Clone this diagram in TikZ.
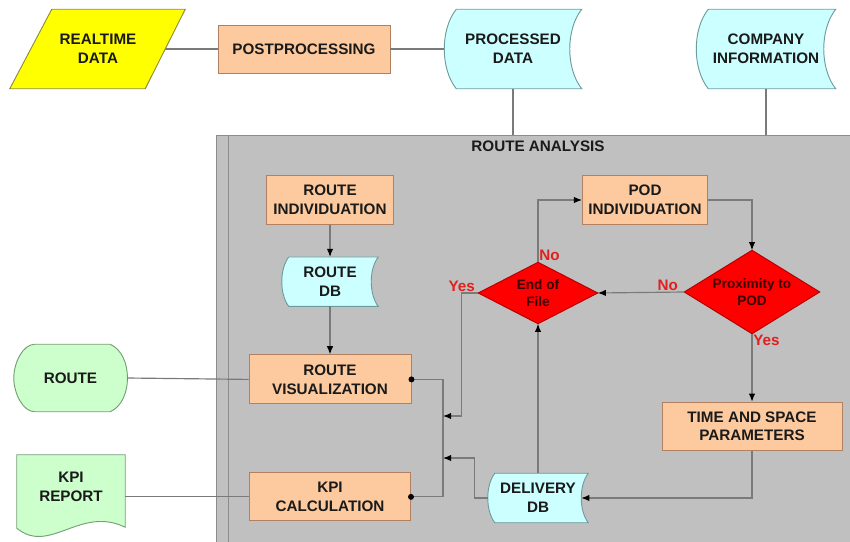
\documentclass[tikz,border=0pt]{standalone}
\usepackage{fontspec}
\setmainfont{Liberation Sans}
\usetikzlibrary{arrows.meta,backgrounds,calc,positioning}

\definecolor{ink}{HTML}{1A1A1A}
\definecolor{rtfill}{HTML}{FFFF00}
\definecolor{rtline}{HTML}{8C8C3C}
\definecolor{procfill}{HTML}{FCCA9E}
\definecolor{procline}{HTML}{B08060}
\definecolor{storefill}{HTML}{CCFFFF}
\definecolor{storeline}{HTML}{6E9C9C}
\definecolor{outfill}{HTML}{CCFFCC}
\definecolor{outborder}{HTML}{74A074}
\definecolor{decfill}{HTML}{FF0000}
\definecolor{decline}{HTML}{B40000}
\definecolor{decink}{HTML}{3C0000}
\definecolor{anscol}{HTML}{E0201E}
\definecolor{areafill}{HTML}{C0C0C0}
\definecolor{arealine}{HTML}{8C8C8C}
\definecolor{flowgrey}{HTML}{7A7A7A}

% stored data outline drawn round a node: #1 node, #2 bulge
\newcommand{\storedshape}[2]{%
  \filldraw[store]
    ($(#1.north west)+(#2,0)$) -- (#1.north east)
    .. controls ($(#1.north east)!.25!(#1.south east)+(-4*#2/3,0)$)
           and ($(#1.north east)!.75!(#1.south east)+(-4*#2/3,0)$) .. (#1.south east)
    -- ($(#1.south west)+(#2,0)$)
    .. controls ($(#1.north west)!.75!(#1.south west)+(-#2/3,0)$)
           and ($(#1.north west)!.25!(#1.south west)+(-#2/3,0)$) .. ($(#1.north west)+(#2,0)$)
    -- cycle;}

\tikzset{
  every node/.style={font=\bfseries\fontsize{13}{16}\selectfont, text=ink, align=center, inner sep=2pt},
  cell/.style={rectangle},
  process/.style={rectangle, draw=procline, fill=procfill, line width=0.8pt},
  store/.style={draw=storeline, fill=storefill, line width=0.8pt},
  source/.style={draw=rtline, fill=rtfill, line width=0.8pt},
  output/.style={draw=outborder, fill=outfill, line width=0.8pt},
  decide/.style={draw=decline, fill=decfill, line width=0.8pt},
  query/.style={cell, font=\bfseries\fontsize{11.6}{15}\selectfont, text=decink},
  answer/.style={font=\bfseries\fontsize{13}{15}\selectfont, text=anscol, inner sep=1pt},
  flow/.style={draw=flowgrey, line width=1pt},
  flowarrow/.style={flow, -{Latex[length=7pt, width=5.5pt, color=black]}},
  flowdots/.style={flow, {Circle[length=5pt, sep=-2.5pt, color=black]}-{Circle[length=5pt, sep=-2.5pt, color=black]}},
}

\begin{document}
\begin{tikzpicture}[x=0.03cm, y=0.03cm]
  \useasboundingbox (0,0) rectangle (850,-542);

  % input side
  \node[cell, minimum width=4.02cm, minimum height=2.37cm] (rtdata) at (98,-49) {REALTIME\\DATA};
  \node[process, minimum width=5.16cm, minimum height=1.44cm] (post) at (304,-49) {POSTPROCESSING};
  \node[cell, minimum width=4.11cm, minimum height=2.37cm] (pdata) at (513,-49) {PROCESSED\\DATA};
  \node[cell, minimum width=4.17cm, minimum height=2.37cm] (cinfo) at (766,-49) {COMPANY\\INFORMATION};

  \coordinate (atop) at (0,-135);
  \node (title) at (538,-146) {ROUTE ANALYSIS};

  % route branch
  \node[process, minimum width=3.81cm, minimum height=1.47cm] (rind) at (330,-200) {ROUTE\\INDIVIDUATION};
  \node[cell, minimum width=2.88cm, minimum height=1.47cm, below=0.96cm of rind] (rdb) {ROUTE\\DB};
  \node[process, minimum width=4.86cm, minimum height=1.47cm, below=1.44cm of rdb] (rvis) {ROUTE\\VISUALIZATION};
  \node[process, minimum width=4.83cm, minimum height=1.44cm, below=2.04cm of rvis] (kpic) {KPI\\CALCULATION};

  % outputs
  \node[cell, minimum width=3.39cm, minimum height=2.01cm] (route) at (70.5,-378) {ROUTE};
  \node[cell, minimum width=3.24cm, minimum height=1.92cm] (kpirep) at (71,-487) {KPI\\REPORT};

  % POD loop
  \node[process, minimum width=3.75cm, minimum height=1.47cm] (podi) at (645,-200) {POD\\INDIVIDUATION};
  \node[query, minimum width=3.57cm, minimum height=1.83cm] (eof) at (538,-293) {End of\\File};
  \node[query, minimum width=4.05cm, minimum height=2.49cm] (prox) at (752,-292) {Proximity to\\POD};
  \node[process, minimum width=5.4cm, minimum height=1.44cm, below=2.04cm of prox] (tsp) {TIME AND SPACE\\PARAMETERS};
  \node[cell, minimum width=3cm, minimum height=1.47cm] (ddb) at (538,-498) {DELIVERY\\DB};

  \node[answer, anchor=south west] (eofno) at (eof.north) {No};
  \node[answer, anchor=south east] (eofyes) at ([xshift=-0.06cm]eof.west) {Yes};
  \node[answer, anchor=south east] (proxno) at ([xshift=-0.15cm]prox.west) {No};
  \node[answer, anchor=north west] (proxyes) at (prox.south) {Yes};

  \coordinate (bus) at (443,-436);
  \coordinate (busa) at (443,-416);
  \coordinate (busb) at (443,-458);
  \coordinate (ddbin) at ($(ddb.east)+(-7,0)$);

  \begin{scope}[on background layer]
    \fill[areafill] (216,-135) rectangle (850,-542);
    \draw[arealine, line width=0.8pt] (216,-542) -- (216,-135) -- (850,-135);
    \draw[arealine, line width=0.8pt] (228,-135) -- (228,-542);

    \filldraw[source] ($(rtdata.north west)+(21,0)$) -- ($(rtdata.north east)+(20,0)$)
      -- ($(rtdata.south east)+(-20,0)$) -- ($(rtdata.south west)+(-21,0)$) -- cycle;
    \storedshape{pdata}{12}
    \storedshape{cinfo}{12}
    \storedshape{rdb}{7}
    \storedshape{ddb}{7}

    \filldraw[output] ($(route.north west)+(21,0)$) -- ($(route.north east)+(-17,0)$)
      .. controls ($(route.north east)+(6,-10)$) and ($(route.south east)+(6,10)$) .. ($(route.south east)+(-17,0)$)
      -- ($(route.south west)+(21,0)$)
      .. controls ($(route.south west)+(9,0)$) and ($(route.west)+(0,-15)$) .. (route.west)
      .. controls ($(route.west)+(0,15)$) and ($(route.north west)+(9,0)$) .. ($(route.north west)+(21,0)$) -- cycle;
    \filldraw[output] (kpirep.north west) -- (kpirep.north east) -- ($(kpirep.south east)+(0,-8)$)
      .. controls ($(kpirep.south east)+(-45,14)$) and ($(kpirep.south west)+(33,-36)$) .. ($(kpirep.south west)+(0,-9)$)
      -- cycle;

    \filldraw[decide] (eof.north) -- (eof.east) -- (eof.south) -- (eof.west) -- cycle;
    \filldraw[decide] (prox.north) -- (prox.east) -- (prox.south) -- (prox.west) -- cycle;
  \end{scope}

  % connectors
  \draw[flow] (rtdata.east) -- (post.west);
  \draw[flow] (post.east) -- (pdata.west);
  \draw[flow] (pdata.south) -- (pdata.south |- atop);
  \draw[flow] (cinfo.south) -- (cinfo.south |- atop);
  \draw[flowarrow] (rind) -- (rdb);
  \draw[flowarrow] (rdb) -- (rvis);
  \draw[flow] (route.east) -- (rvis.west);
  \draw[flow] (kpirep.east |- kpic.west) -- (kpic.west);
  \draw[flowarrow] (eof.north) |- (podi.west);
  \draw[flowarrow] (podi.east) -| (prox.north);
  \draw[flowarrow] (prox.west) -- (eof.east);
  \draw[flowarrow] (prox.south) -- (tsp.north);
  \draw[flowarrow] (tsp.south) |- (ddbin);
  \draw[flowarrow] (ddb.north) -- (eof.south);
  \draw[flowdots] (rvis.east) -| (bus) |- (kpic.east);
  \draw[flowarrow] (eof.west) -- ++(-17,0) |- (busa);
  \draw[flowarrow] (ddb.west) -- ++(-13,0) |- (busb);
\end{tikzpicture}
\end{document}
